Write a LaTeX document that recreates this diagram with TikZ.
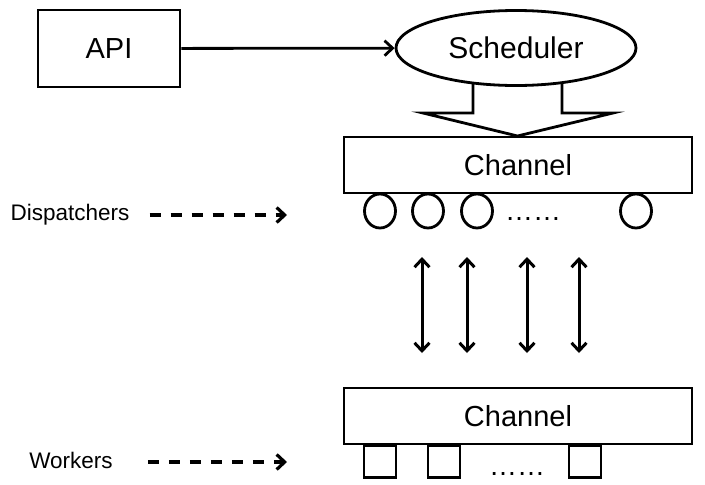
\documentclass[tikz,border=0pt]{standalone}
\usepackage{fontspec}
\setmainfont{Liberation Sans}
\usetikzlibrary{shapes,arrows.meta,positioning}
\tikzstyle{block} = [rectangle, draw, line width=2.8pt, inner sep=0pt,
    font=\fontsize{29}{33}\selectfont]
\tikzstyle{cloud} = [ellipse, draw, line width=2.8pt, fill=white, inner sep=0pt,
    minimum width=240pt, minimum height=75pt, font=\fontsize{30}{34}\selectfont]
\tikzstyle{wheel} = [ellipse, draw, line width=2.8pt, inner sep=0pt,
    minimum width=31pt, minimum height=34pt]
\tikzstyle{worker} = [rectangle, draw, line width=2.8pt, inner sep=0pt,
    minimum width=32pt, minimum height=32pt, anchor=north]
\tikzstyle{tag} = [inner sep=0pt, font=\fontsize{22.5}{26}\selectfont]
\tikzstyle{dots} = [inner sep=0pt, anchor=base, font=\fontsize{28}{32}\selectfont]
\tikzstyle{line} = [draw, line width=2.8pt, -{Straight Barb[length=8pt,width=15pt]}]
\tikzstyle{both} = [draw, line width=3pt, {Straight Barb[length=8pt,width=15pt]}-{Straight Barb[length=8pt,width=15pt]}]
\tikzstyle{dashline} = [line, line width=3.2pt, dash pattern=on 11pt off 10pt]

\begin{document}
\begin{tikzpicture}[x=1pt, y=-1pt]
    \useasboundingbox (0,0) rectangle (705,485);
    % Place nodes
    \node [block, minimum width=142pt, minimum height=77pt] (api) at (109,48.5) {API};
    % block arrow from scheduler down to channel
    \draw [line width=2.8pt, fill=white] (473,70) -- (473,113) -- (423,113) -- (517.5,136)
        -- (613,113) -- (562,113) -- (562,70);
    \node [cloud] (sched) at (516,48) {Scheduler};
    \node [block, minimum width=348pt, minimum height=56pt] (chan1) at (518,165) {Channel};
    \node [block, minimum width=348pt, minimum height=56pt] (chan2) at (518,416) {Channel};
    % dispatchers
    \node [wheel] (d1) at (380,211) {};
    \node [wheel] (d2) at (428,211) {};
    \node [wheel] (d3) at (477,211) {};
    \node [wheel] (d4) at (636,211) {};
    \node [dots] (ddots) at (533,220) {……};
    % workers
    \node [worker] (w1) at (380,444) {};
    \node [worker] (w2) at (444,444) {};
    \node [worker] (w3) at (585,444) {};
    \node [dots] (wdots) at (517,475) {……};
    % side labels
    \node [tag] (disp) at (70,215) {Dispatchers};
    \node [tag] (work) at (71,460) {Workers};
    \coordinate (dispend) at (287,215);
    \coordinate (workend) at (287,462);
    % Draw edges
    \path [line] (api) -- (sched);
    \path [dashline, shorten <=20pt] (disp.east) -- (dispend);
    \path [dashline, shorten <=35pt] (work.east |- workend) -- (workend);
    \foreach \x [count=\i] in {422,467,527,579} {
        \coordinate (up\i) at (\x,257);
        \coordinate (dn\i) at (\x,353);
        \path [both] (up\i) -- (dn\i);
    }
\end{tikzpicture}
\end{document}
